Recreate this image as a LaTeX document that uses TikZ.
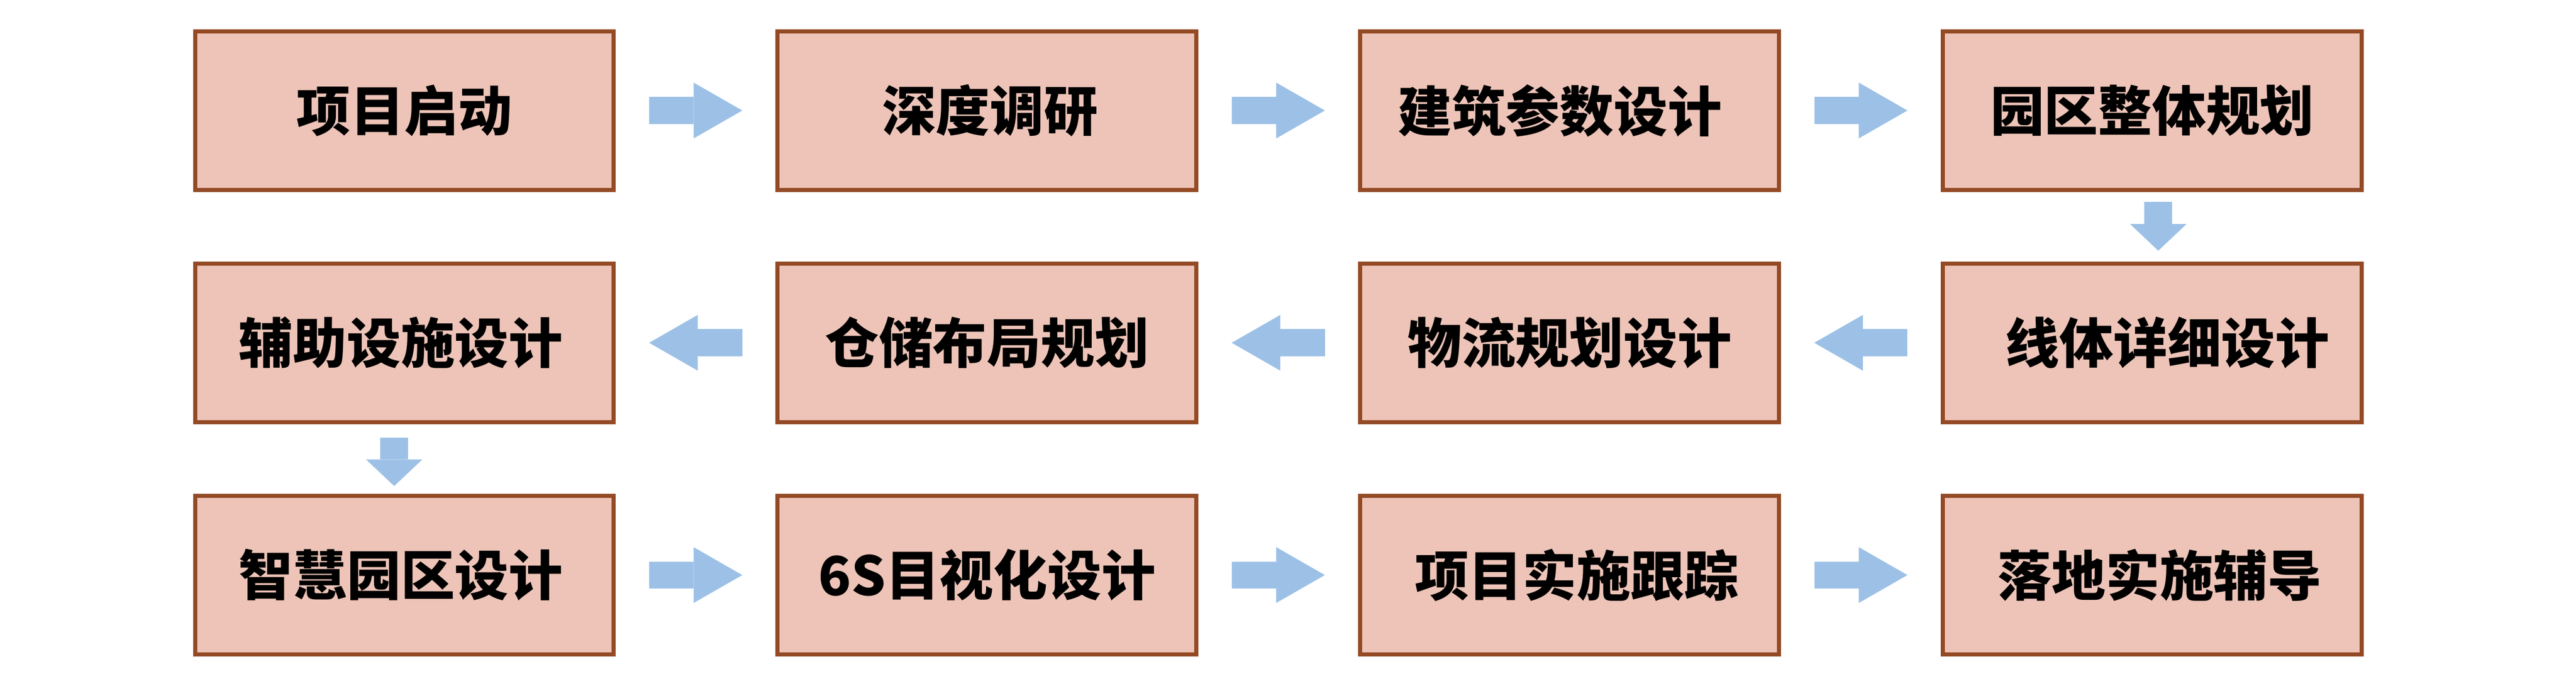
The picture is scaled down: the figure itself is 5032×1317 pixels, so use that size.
\documentclass[tikz,border=0pt]{standalone}
\usepackage{fontspec}
\newfontfamily\cjk{Noto Sans CJK SC}
\usetikzlibrary{arrows.meta}
\definecolor{boxfill}{HTML}{EEC4B8}
\definecolor{boxline}{HTML}{934A25}
\definecolor{flowblue}{HTML}{9DC1E6}

\begin{document}
\begin{tikzpicture}[x=0.1mm, y=0.1mm,
	stepbox/.style={draw=boxline, fill=boxfill, line width=0.8mm,
		minimum width=81.8mm, minimum height=31mm, inner sep=0pt,
		font=\cjk\bfseries\fontsize{30pt}{30pt}\selectfont},
	tx/.style={execute at begin node={\hspace*{#1}}},
	flowh/.style={draw=flowblue, line width=5.3mm,
		-{Triangle[length=9.5mm, width=10.9mm, line width=0pt]},
		shorten <=6.5mm, shorten >=6.5mm},
	flowv/.style={draw=flowblue, line width=5.4mm,
		-{Triangle[length=5.2mm, width=11mm, line width=0pt]},
		shorten <=2mm, shorten >=2.1mm}]
		
		\useasboundingbox (0,0) rectangle (5032,1317);
		
		\node[stepbox] (start) at (790,1101) {项目启动};
		
		\node[stepbox, tx=1.2mm] (survey) at (1928,1101) {深度调研};
		
		\node[stepbox, tx=-3.8mm] (building) at (3066,1101) {建筑参数设计};
		
		\node[stepbox] (park) at (4204,1101) {园区整体规划};
		
		\node[stepbox, tx=6mm] (line) at (4204,647) {线体详细设计};
		
		\node[stepbox] (logistics) at (3066,647) {物流规划设计};
		
		\node[stepbox] (storage) at (1928,647) {仓储布局规划};
		
		\node[stepbox, tx=-1.4mm] (aux) at (790,647) {辅助设施设计};
		
		\node[stepbox, tx=-1.4mm] (smart) at (790,193) {智慧园区设计};
		
		\node[stepbox] (visual) at (1928,193) {6S目视化设计};
		
		\node[stepbox, tx=2.8mm] (track) at (3066,193) {项目实施跟踪};
		
		\node[stepbox, tx=3mm] (coach) at (4204,193) {落地实施辅导};
		
		\draw[flowh] (start.east) -- (survey.west);
		
		\draw[flowh] (survey.east) -- (building.west);
		
		\draw[flowh] (building.east) -- (park.west);
		
		\draw[flowv] ([xshift=1.2mm]park.south) -- ([xshift=1.2mm]line.north);
		
		\draw[flowh] (line.west) -- (logistics.east);
		
		\draw[flowh] (logistics.west) -- (storage.east);
		
		\draw[flowh] (storage.west) -- (aux.east);
		
		\draw[flowv, shorten <=2.6mm, shorten >=1.5mm] ([xshift=-2mm]aux.south) -- ([xshift=-2mm]smart.north);
		
		\draw[flowh] (smart.east) -- (visual.west);
		
		\draw[flowh] (visual.east) -- (track.west);
		
		\draw[flowh] (track.east) -- (coach.west);
		
	\end{tikzpicture}
\end{document}
